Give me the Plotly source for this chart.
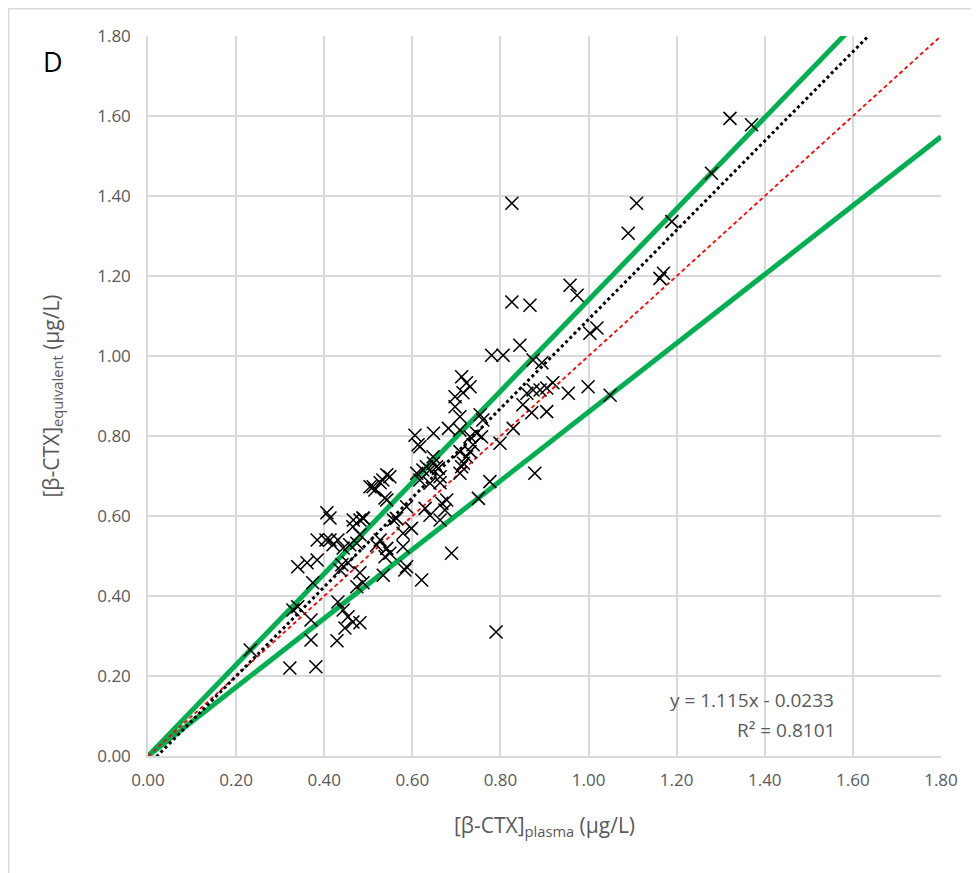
import plotly.graph_objects as go

# Scatter data: [β-CTX] plasma (x) vs equivalent (y), in µg/L
plasma = [
    0.232, 0.322, 0.381, 0.370, 0.429, 0.329, 0.340, 0.370, 0.340, 0.361,
    0.384, 0.374, 0.406, 0.413, 0.384, 0.404, 0.420, 0.431, 0.443, 0.431,
    0.443, 0.454, 0.465, 0.481, 0.447, 0.436, 0.481, 0.488, 0.474, 0.465,
    0.481, 0.488, 0.481, 0.511, 0.527, 0.533, 0.538, 0.454, 0.440, 0.413,
    0.534, 0.583, 0.621,
    0.606, 0.648, 0.682, 0.613, 0.647, 0.624, 0.610, 0.617, 0.640, 0.663,
    0.655, 0.708, 0.723, 0.716, 0.542, 0.504, 0.515, 0.542, 0.587, 0.564,
    0.557, 0.629, 0.640, 0.667, 0.678, 0.674, 0.663, 0.466, 0.489, 0.598,
    0.579, 0.527, 0.519, 0.542, 0.549, 0.538, 0.689, 0.587, 0.458, 0.474,
    0.844, 0.780, 0.806, 0.874, 0.894, 0.712, 0.723, 0.715, 0.697, 0.697,
    0.731, 0.860, 0.874, 0.890, 0.905, 0.919, 0.954, 0.999, 1.049, 1.003,
    1.019, 0.851, 0.871, 0.905, 0.754, 0.760, 0.708, 0.708, 0.617, 0.731,
    0.746, 0.757, 0.738, 0.829, 0.799, 0.731, 0.708, 0.712, 0.878, 0.776,
    0.750, 0.549, 0.632, 0.648, 0.659, 0.663, 0.640, 0.579,
    1.321, 1.370, 1.279, 1.109, 1.090, 1.189, 1.162, 1.170, 0.826, 0.958,
    0.974, 0.826, 0.867, 0.790,
]
equivalent = [
    0.265, 0.220, 0.223, 0.290, 0.288, 0.365, 0.373, 0.340, 0.473, 0.483,
    0.490, 0.433, 0.608, 0.595, 0.540, 0.540, 0.528, 0.540, 0.520, 0.385,
    0.365, 0.348, 0.335, 0.333, 0.320, 0.465, 0.458, 0.433, 0.423, 0.573,
    0.590, 0.595, 0.553, 0.673, 0.683, 0.690, 0.645, 0.483, 0.478, 0.540,
    0.452, 0.465, 0.440,
    0.802, 0.807, 0.819, 0.778, 0.748, 0.715, 0.707, 0.690, 0.715, 0.683,
    0.723, 0.761, 0.748, 0.732, 0.703, 0.673, 0.665, 0.640, 0.623, 0.594,
    0.590, 0.619, 0.602, 0.632, 0.640, 0.615, 0.590, 0.590, 0.594, 0.569,
    0.557, 0.540, 0.527, 0.519, 0.507, 0.498, 0.507, 0.473, 0.528, 0.532,
    1.027, 1.002, 1.002, 0.990, 0.983, 0.948, 0.933, 0.908, 0.898, 0.873,
    0.923, 0.907, 0.915, 0.915, 0.920, 0.933, 0.907, 0.923, 0.902, 1.057,
    1.070, 0.878, 0.858, 0.861, 0.853, 0.840, 0.848, 0.815, 0.773, 0.798,
    0.807, 0.798, 0.778, 0.819, 0.782, 0.761, 0.707, 0.723, 0.707, 0.686,
    0.644, 0.698, 0.723, 0.732, 0.719, 0.698, 0.682, 0.523,
    1.594, 1.578, 1.457, 1.382, 1.307, 1.336, 1.194, 1.207, 1.382, 1.177,
    1.152, 1.135, 1.127, 0.310,
]

# Reference lines
line_x = [0.0, 1.8]
upper_slope = 1.14
lower_slope = 0.86
fit_slope = 1.115
fit_intercept = -0.0233

tick_vals = [0.0, 0.2, 0.4, 0.6, 0.8, 1.0, 1.2, 1.4, 1.6, 1.8]
tick_text = ["0.00", "0.20", "0.40", "0.60", "0.80", "1.00", "1.20", "1.40", "1.60", "1.80"]

GREEN = "#00B050"
GRID = "#D9D9D9"
TXT = "#595959"
FONT = "Open Sans"

fig = go.Figure()

fig.add_trace(go.Scatter(x=line_x, y=[v * upper_slope for v in line_x], mode="lines",
                         line=dict(color=GREEN, width=5), hoverinfo="skip"))
fig.add_trace(go.Scatter(x=line_x, y=[v * lower_slope for v in line_x], mode="lines",
                         line=dict(color=GREEN, width=5), hoverinfo="skip"))
fig.add_trace(go.Scatter(x=line_x, y=line_x, mode="lines",
                         line=dict(color="#FF0000", width=1.8, dash="4px,3px"), hoverinfo="skip"))
fit_x = [0.0, 1.8]
fig.add_trace(go.Scatter(x=fit_x, y=[fit_slope * v + fit_intercept for v in fit_x], mode="lines",
                         line=dict(color="black", width=3, dash="dot"), hoverinfo="skip"))
fig.add_trace(go.Scatter(x=plasma, y=equivalent, mode="markers",
                         marker=dict(symbol="x-thin", size=13, color="black",
                                     line=dict(color="black", width=1.6))))

axis_common = dict(
    range=[0, 1.8], tickvals=tick_vals, ticktext=tick_text,
    showgrid=True, gridcolor=GRID, gridwidth=1.5,
    zeroline=False, showline=True, linecolor=GRID, linewidth=1.5,
    ticks="", tickfont=dict(family=FONT, size=17, color=TXT),
    mirror=False,
)

# The page body adds an 8px offset, so the figure is sized to fit inside the window.
fig.update_layout(
    width=971, height=865,
    margin=dict(l=140, r=38, t=28, b=117),
    plot_bgcolor="white", paper_bgcolor="white",
    showlegend=False,
    xaxis=dict(**axis_common, ticklabelstandoff=8,
               title=dict(text="[β-CTX]<sub>plasma</sub> (µg/L)",
                          font=dict(family=FONT, size=21, color=TXT), standoff=28)),
    yaxis=dict(**axis_common, ticklabelstandoff=12,
               title=dict(text="[β-CTX]<sub>equivalent</sub> (µg/L)",
                          font=dict(family=FONT, size=21, color=TXT), standoff=32)),
    font=dict(family=FONT),
)

# Outer chart border (top and left visible)
fig.add_shape(type="rect", xref="paper", yref="paper",
              x0=(8.8 - 148) / 793, x1=(990 - 148) / 793,
              y0=(756 - 890) / 720, y1=(756 - 8.8) / 720,
              line=dict(color="#D9D9D9", width=1.5), fillcolor="rgba(0,0,0,0)", layer="below")

fig.add_annotation(text="D", xref="paper", yref="paper",
                   x=(41 - 148) / 793, y=(756 - 41) / 720, showarrow=False,
                   font=dict(family=FONT, size=27, color="black"))
fig.add_annotation(text="y = 1.115x - 0.0233", xref="paper", yref="paper",
                   x=(836 - 148) / 793, y=(756 - 715) / 720, showarrow=False,
                   font=dict(family=FONT, size=19, color=TXT))
fig.add_annotation(text="R² = 0.8101", xref="paper", yref="paper",
                   x=(837 - 148) / 793, y=(756 - 745) / 720, showarrow=False,
                   font=dict(family=FONT, size=19, color=TXT))

fig.write_html("out.html")
